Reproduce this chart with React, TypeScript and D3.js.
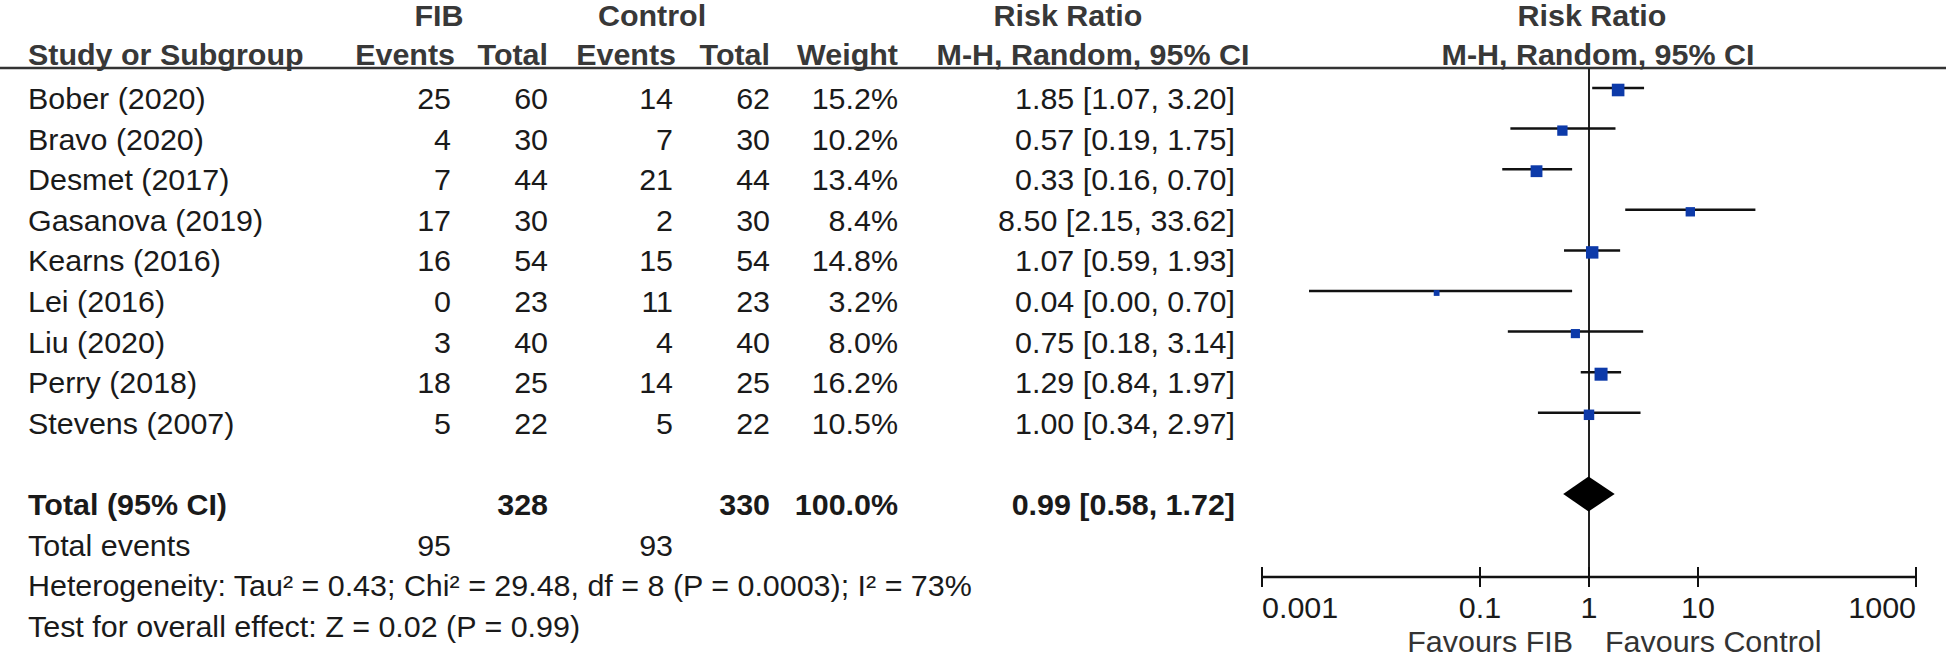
import React from "react";
import * as d3 from "d3";

// study rows
const studies = [
  "Bober (2020)",
  "Bravo (2020)",
  "Desmet (2017)",
  "Gasanova (2019)",
  "Kearns (2016)",
  "Lei (2016)",
  "Liu (2020)",
  "Perry (2018)",
  "Stevens (2007)",
];
const fibEvents = [25, 4, 7, 17, 16, 0, 3, 18, 5];
const fibTotal = [60, 30, 44, 30, 54, 23, 40, 25, 22];
const ctrlEvents = [14, 7, 21, 2, 15, 11, 4, 14, 5];
const ctrlTotal = [62, 30, 44, 30, 54, 23, 40, 25, 22];
const weights = [15.2, 10.2, 13.4, 8.4, 14.8, 3.2, 8.0, 16.2, 10.5];
const riskRatio = [1.85, 0.57, 0.33, 8.5, 1.07, 0.04, 0.75, 1.29, 1.0];
const ciLow = [1.07, 0.19, 0.16, 2.15, 0.59, 0.0027, 0.18, 0.84, 0.34];
const ciHigh = [3.2, 1.75, 0.7, 33.62, 1.93, 0.7, 3.14, 1.97, 2.97];

// pooled result
const pooledRR = 0.99;
const pooledLow = 0.58;
const pooledHigh = 1.72;
const totalFib = 328;
const totalCtrl = 330;
const eventsFib = 95;
const eventsCtrl = 93;
const heterogeneity =
  "Heterogeneity: Tau² = 0.43; Chi² = 29.48, df = 8 (P = 0.0003); I² = 73%";
const overallEffect = "Test for overall effect: Z = 0.02 (P = 0.99)";

// axis
const axisTicks = [0.001, 0.1, 1, 10, 1000];
const axisDomain = [0.001, 1000];

const FONT = "'Liberation Sans', Arial, Helvetica, sans-serif";
const SX = 1.05; // the reference text is a little wider than plain Arial

const T = ({ x, y, anchor = "start", bold = false, fill = "#1a1a1a", size = 29, children }) => (
  <text
    transform={`translate(${x},${y}) scale(${SX},1)`}
    textAnchor={anchor}
    fontFamily={FONT}
    fontSize={size}
    fontWeight={bold ? "bold" : "normal"}
    fill={fill}
  >
    {children}
  </text>
);

const fmt = (v) => v.toFixed(2);

export default function App() {
  const width = 1946;
  const height = 659;

  const x = d3.scaleLog().domain(axisDomain).range([1262, 1916]);
  const row = d3.scaleLinear().domain([0, 10]).range([88, 494]);
  const size = d3.scaleSqrt().domain([0, 16.2]).range([0, 13]);

  const axisY = 577;
  const headerY = 68;
  const textOff = 21;
  const headFill = "#383838";

  // column right edges
  const col = { name: 28, fibE: 451, fibT: 548, ctlE: 673, ctlT: 770, w: 898, ci: 1235 };

  const totalY = row(10);
  const dH = 17.5;
  const diamond = [
    [x(pooledLow), totalY],
    [x(pooledRR), totalY - dH],
    [x(pooledHigh), totalY],
    [x(pooledRR), totalY + dH],
  ];

  return (
    <svg
      width={width}
      height={height}
      style={{ position: "absolute", left: 0, top: 0, background: "#fff" }}
    >
      <rect width={width} height={height} fill="#fff" />

      {/* header */}
      <T x={439} y={26} anchor="middle" bold fill={headFill}>FIB</T>
      <T x={652} y={26} anchor="middle" bold fill={headFill}>Control</T>
      <T x={1068} y={26} anchor="middle" bold fill={headFill}>Risk Ratio</T>
      <T x={1592} y={26} anchor="middle" bold fill={headFill}>Risk Ratio</T>

      <T x={col.name} y={65} bold fill={headFill}>Study or Subgroup</T>
      <T x={455} y={65} anchor="end" bold fill={headFill}>Events</T>
      <T x={col.fibT} y={65} anchor="end" bold fill={headFill}>Total</T>
      <T x={676} y={65} anchor="end" bold fill={headFill}>Events</T>
      <T x={col.ctlT} y={65} anchor="end" bold fill={headFill}>Total</T>
      <T x={col.w} y={65} anchor="end" bold fill={headFill}>Weight</T>
      <T x={1093} y={65} anchor="middle" bold fill={headFill}>M-H, Random, 95% CI</T>
      <T x={1598} y={65} anchor="middle" bold fill={headFill}>M-H, Random, 95% CI</T>

      <line x1={0} x2={width} y1={headerY} y2={headerY} stroke="#333" strokeWidth={2.5} />

      {/* line of no effect */}
      <line x1={x(1)} x2={x(1)} y1={headerY} y2={axisY} stroke="#222" strokeWidth={2} />

      {/* study rows */}
      {studies.map((s, i) => {
        const yl = row(i);
        const yt = yl + textOff;
        const side = size(weights[i]);
        return (
          <g key={s}>
            <T x={col.name} y={yt}>{s}</T>
            <T x={col.fibE} y={yt} anchor="end">{fibEvents[i]}</T>
            <T x={col.fibT} y={yt} anchor="end">{fibTotal[i]}</T>
            <T x={col.ctlE} y={yt} anchor="end">{ctrlEvents[i]}</T>
            <T x={col.ctlT} y={yt} anchor="end">{ctrlTotal[i]}</T>
            <T x={col.w} y={yt} anchor="end">{weights[i].toFixed(1)}%</T>
            <T x={col.ci} y={yt} anchor="end">
              {`${fmt(riskRatio[i])} [${fmt(ciLow[i])}, ${fmt(ciHigh[i])}]`}
            </T>
            <line
              x1={x(ciLow[i])}
              x2={x(ciHigh[i])}
              y1={yl}
              y2={yl}
              stroke="#111"
              strokeWidth={2.5}
            />
            <rect
              x={x(riskRatio[i]) - side / 2}
              y={yl + 2 - side / 2}
              width={side}
              height={side}
              fill="#0d3aa9"
            />
          </g>
        );
      })}

      {/* totals */}
      <T x={col.name} y={totalY + textOff} bold>Total (95% CI)</T>
      <T x={col.fibT} y={totalY + textOff} anchor="end" bold>{totalFib}</T>
      <T x={col.ctlT} y={totalY + textOff} anchor="end" bold>{totalCtrl}</T>
      <T x={col.w} y={totalY + textOff} anchor="end" bold>100.0%</T>
      <T x={col.ci} y={totalY + textOff} anchor="end" bold>
        {`${fmt(pooledRR)} [${fmt(pooledLow)}, ${fmt(pooledHigh)}]`}
      </T>
      <path d={d3.line()(diamond) + "Z"} fill="#000" />

      <T x={col.name} y={row(11) + textOff}>Total events</T>
      <T x={col.fibE} y={row(11) + textOff} anchor="end">{eventsFib}</T>
      <T x={col.ctlE} y={row(11) + textOff} anchor="end">{eventsCtrl}</T>
      <T x={col.name} y={row(12) + textOff}>{heterogeneity}</T>
      <T x={col.name} y={row(13) + textOff}>{overallEffect}</T>

      {/* axis */}
      <line x1={x(axisDomain[0])} x2={x(axisDomain[1])} y1={axisY} y2={axisY} stroke="#111" strokeWidth={2.5} />
      {axisTicks.map((t, i) => (
        <g key={t}>
          <line x1={x(t)} x2={x(t)} y1={axisY - 10} y2={axisY + 10} stroke="#111" strokeWidth={2} />
          <T
            x={x(t)}
            y={618}
            anchor={i === 0 ? "start" : i === axisTicks.length - 1 ? "end" : "middle"}
          >
            {String(t)}
          </T>
        </g>
      ))}
      <T x={x(1) - 16} y={652} anchor="end" fill="#333">Favours FIB</T>
      <T x={x(1) + 16} y={652} fill="#333">Favours Control</T>
    </svg>
  );
}
